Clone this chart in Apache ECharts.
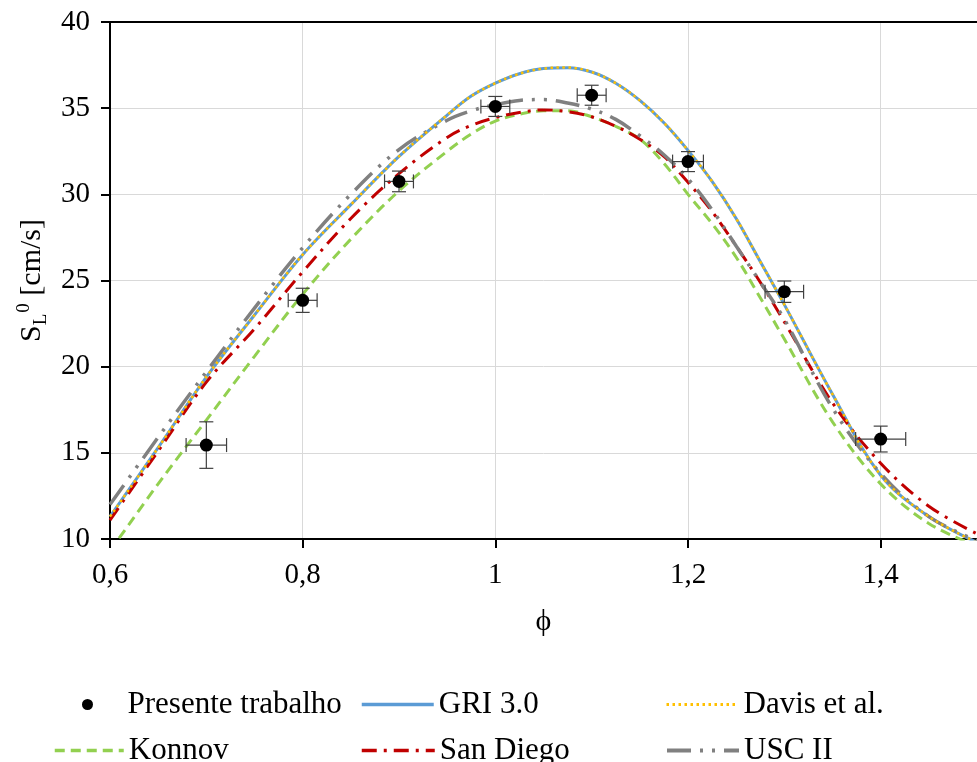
<!DOCTYPE html>
<html>
<head>
<meta charset="utf-8">
<script src="https://cdn.jsdelivr.net/npm/echarts@6/dist/echarts.min.js"></script>
<style>
html,body{margin:0;padding:0;background:#fff;}
#chart{width:977px;height:762px;}
</style>
</head>
<body>
<div id="chart"></div>
<script>
// Experimental data (Presente trabalho)
var phiExp = [0.7, 0.8, 0.9, 1.0, 1.1, 1.2, 1.3, 1.4];
var slExp = [15.45, 23.85, 30.75, 35.1, 35.75, 31.9, 24.35, 15.8];
var slErr = [1.35, 0.7, 0.6, 0.58, 0.58, 0.58, 0.62, 0.75];
var phiErr = [0.021, 0.015, 0.015, 0.015, 0.015, 0.016, 0.02, 0.026];

// Model curves
var phiModel = [0.6, 0.65, 0.7, 0.75, 0.8, 0.85, 0.9, 0.95, 0.975, 1.0, 1.025, 1.05, 1.075, 1.1, 1.125, 1.15, 1.175, 1.2, 1.225, 1.25, 1.275, 1.3, 1.35, 1.4, 1.45, 1.5];
var gri      = [11.3, 15.3, 19.4, 23.0, 26.5, 29.4, 32.2, 34.6, 35.7, 36.45, 37.0, 37.3, 37.35, 37.1, 36.45, 35.45, 34.15, 32.55, 30.75, 28.6, 26.1, 23.6, 18.4, 13.7, 11.3, 9.8];
var davis    = [11.3, 15.3, 19.4, 23.0, 26.5, 29.4, 32.2, 34.6, 35.7, 36.45, 37.0, 37.3, 37.36, 37.1, 36.45, 35.45, 34.15, 32.55, 30.75, 28.6, 26.1, 23.6, 18.4, 13.7, 11.3, 9.8];
var konnov   = [9.3, 13.2, 16.9, 20.6, 24.2, 27.4, 30.2, 32.5, 33.5, 34.25, 34.65, 34.85, 34.85, 34.5, 33.95, 33.2, 31.8, 30.0, 28.3, 26.35, 24.0, 21.6, 16.8, 13.2, 10.9, 9.6];
var sanDiego = [11.1, 15.1, 19.1, 22.2, 25.5, 28.6, 31.2, 33.3, 34.0, 34.45, 34.75, 34.9, 34.8, 34.5, 33.95, 33.2, 32.2, 30.7, 29.0, 27.0, 24.9, 22.6, 17.9, 14.4, 11.9, 10.3];
var uscII    = [12.0, 15.9, 19.7, 23.4, 26.9, 30.0, 32.6, 34.3, 34.85, 35.2, 35.45, 35.5, 35.3, 34.95, 34.35, 33.4, 32.3, 30.9, 29.1, 27.0, 24.9, 22.75, 17.6, 13.8, 11.3, 9.9];

// Axis ticks
var xTicks = [0.6, 0.8, 1.0, 1.2, 1.4];
var yTicks = [10, 15, 20, 25, 30, 35, 40];

function pairs(xs, ys) { return xs.map(function (x, i) { return [x, ys[i]]; }); }
var FONT = 'Liberation Serif';

var chart = echarts.init(document.getElementById('chart'), null, {renderer: 'canvas'});

var errData = phiExp.map(function (x, i) { return [x, slExp[i], phiErr[i], slErr[i]]; });

var styles = {
  'GRI 3.0': {color: '#5B9BD5', width: 3, type: 'solid'},
  'Davis et al.': {color: '#FFC000', width: 2.5, type: [2.5, 3.5]},
  'Konnov': {color: '#92D050', width: 3, type: [10, 6]},
  'San Diego': {color: '#C00000', width: 3, type: [15, 7, 3, 7]},
  'USC II': {color: '#808080', width: 3.5, type: [24, 9, 3, 9, 3, 9]}
};

function lineSeries(name, data, z) {
  var s = styles[name];
  return {
    name: name, type: 'line', data: pairs(phiModel, data), smooth: 0.35,
    symbol: 'none', showSymbol: false, z: z,
    lineStyle: {color: s.color, width: s.width, type: s.type, cap: 'butt'},
    itemStyle: {color: s.color},
    emphasis: {disabled: true}
  };
}

function legend(name, left, top, w, isDot) {
  var l = {
    data: [name], left: left, top: top, itemWidth: w, itemHeight: 12, padding: 0,
    textStyle: {fontFamily: FONT, fontSize: 31, color: '#000'},
    selectedMode: false
  };
  if (isDot) {
    l.data = [{name: name, icon: 'circle'}];
    l.itemHeight = 11;
    l.itemStyle = {color: '#000', opacity: 1};
    l.textStyle.padding = [0, 0, 0, 29];
  } else {
    var s = styles[name];
    l.itemStyle = {opacity: 0};
    l.lineStyle = {color: s.color, width: s.width + 0.5, type: s.type, opacity: 1};
  }
  return l;
}

var option = {
  animation: false,
  grid: {left: 110, top: 22, right: -6, bottom: 223, containLabel: false},
  xAxis: [{
    type: 'value', min: 0.6, max: 1.5, interval: 0.2,
    name: 'ϕ', nameLocation: 'middle', nameGap: 68,
    nameTextStyle: {fontFamily: FONT, fontSize: 30, color: '#000'},
    axisLine: {lineStyle: {color: '#000', width: 2}},
    axisTick: {show: true, inside: false, length: 9, lineStyle: {color: '#000', width: 2}},
    axisLabel: {fontFamily: FONT, fontSize: 29, color: '#000', margin: 22, showMaxLabel: false,
      formatter: function (v) { var r = Math.round(v * 10) / 10; return xTicks.indexOf(r) >= 0 ? String(r).replace('.', ',') : ''; }},
    splitLine: {show: true, lineStyle: {color: '#d9d9d9', width: 1}}
  }, {
    type: 'value', min: 0.6, max: 1.5, position: 'top',
    axisLine: {show: true, onZero: false, lineStyle: {color: '#000', width: 2}},
    axisTick: {show: false}, axisLabel: {show: false}, splitLine: {show: false}
  }],
  yAxis: {
    type: 'value', min: 10, max: 40, interval: 5,
    name: '{s|S}{sub|L}{sup|0}{s| [cm/s]}', nameLocation: 'middle', nameGap: 58, nameRotate: 90,
    nameTextStyle: {
      fontFamily: FONT, color: '#000',
      rich: {
        s: {fontFamily: FONT, fontSize: 30, color: '#000', lineHeight: 36},
        sub: {fontFamily: FONT, fontSize: 19, color: '#000', lineHeight: 18, verticalAlign: 'bottom'},
        sup: {fontFamily: FONT, fontSize: 19, color: '#000', lineHeight: 18, verticalAlign: 'top', padding: [0, 0, 0, 1]}
      }
    },
    axisLine: {show: true, lineStyle: {color: '#000', width: 2}},
    axisTick: {show: true, inside: false, length: 9, lineStyle: {color: '#000', width: 2}},
    axisLabel: {fontFamily: FONT, fontSize: 29, color: '#000', margin: 20,
      formatter: function (v) { return yTicks.indexOf(v) >= 0 ? String(v) : ''; }},
    splitLine: {show: true, lineStyle: {color: '#d9d9d9', width: 1}}
  },
  legend: [
    legend('Presente trabalho', 82, 689, 12, true),
    legend('GRI 3.0', 360, 689, 72),
    legend('Davis et al.', 665, 689, 72),
    legend('Konnov', 53, 735, 69),
    legend('San Diego', 360, 735, 73),
    legend('USC II', 665, 735, 72)
  ],
  series: [
    lineSeries('GRI 3.0', gri, 3),
    lineSeries('Davis et al.', davis, 4),
    lineSeries('Konnov', konnov, 3),
    lineSeries('San Diego', sanDiego, 3),
    lineSeries('USC II', uscII, 3),
    {
      name: 'errors', type: 'custom', data: errData, z: 5,
      renderItem: function (params, api) {
        var x = api.value(0), y = api.value(1), ex = api.value(2), ey = api.value(3);
        var c = api.coord([x, y]);
        var l = api.coord([x - ex, y]), r = api.coord([x + ex, y]);
        var t = api.coord([x, y + ey]), b = api.coord([x, y - ey]);
        var cap = 7;
        var st = {stroke: '#404040', lineWidth: 1.2};
        return {type: 'group', children: [
          {type: 'line', shape: {x1: l[0], y1: c[1], x2: r[0], y2: c[1]}, style: st},
          {type: 'line', shape: {x1: l[0], y1: c[1] - cap, x2: l[0], y2: c[1] + cap}, style: st},
          {type: 'line', shape: {x1: r[0], y1: c[1] - cap, x2: r[0], y2: c[1] + cap}, style: st},
          {type: 'line', shape: {x1: c[0], y1: t[1], x2: c[0], y2: b[1]}, style: st},
          {type: 'line', shape: {x1: c[0] - cap, y1: t[1], x2: c[0] + cap, y2: t[1]}, style: st},
          {type: 'line', shape: {x1: c[0] - cap, y1: b[1], x2: c[0] + cap, y2: b[1]}, style: st}
        ]};
      }
    },
    {
      name: 'Presente trabalho', type: 'scatter', data: pairs(phiExp, slExp), z: 6,
      symbol: 'circle', symbolSize: 13, itemStyle: {color: '#000', opacity: 1}, emphasis: {disabled: true}
    }
  ]
};
chart.setOption(option);
</script>
</body>
</html>
